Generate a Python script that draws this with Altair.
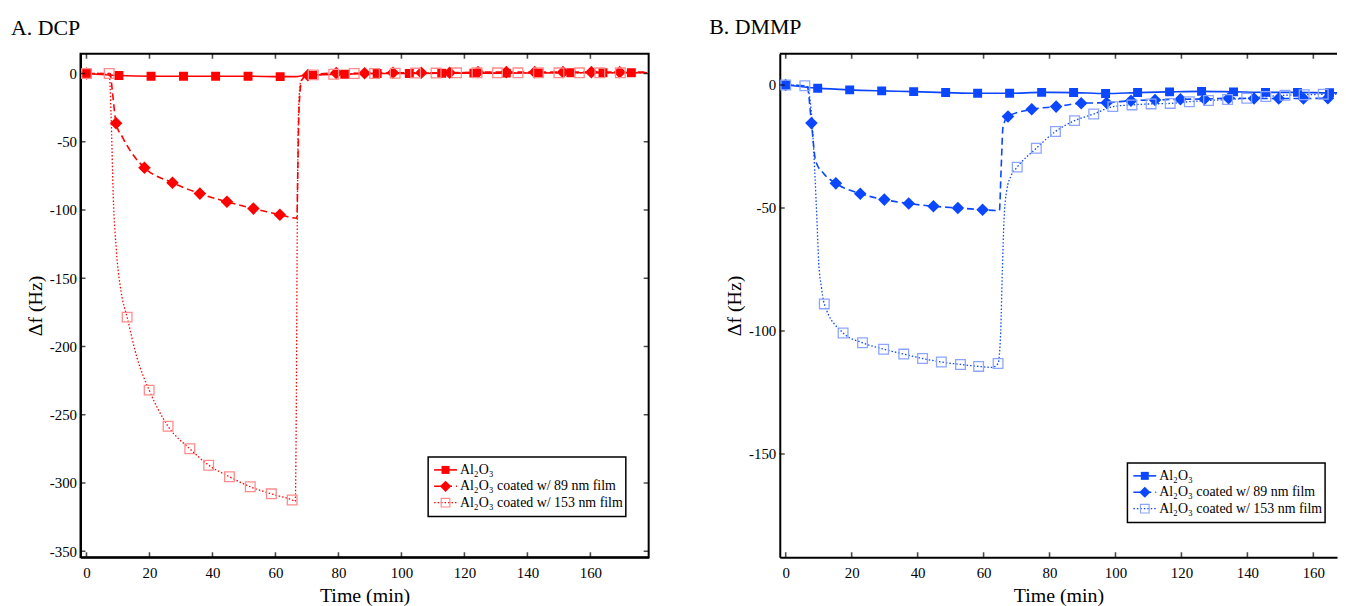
import altair as alt
import pandas as pd

FONT = "Liberation Serif"
RED, RED_LIGHT = "#FF0000", "#FF8C8C"
BLUE, BLUE_LIGHT = "#0B47FF", "#8CA6FF"

x_ticks = [0, 20, 40, 60, 80, 100, 120, 140, 160]
dcp_y_ticks = [0, -50, -100, -150, -200, -250, -300, -350]
dmmp_y_ticks = [0, -50, -100, -150]
series_names = ["Al₂O₃", "Al₂O₃ coated w/ 89 nm film", "Al₂O₃ coated w/ 153 nm film"]

# ---------------- A. DCP ----------------
dcp_bare_line_t = [0, 10.3, 20.5, 30.8, 41, 51.3, 61.5, 66.5, 69, 71.8, 82, 92.3, 102.5, 112.8, 123, 133.3, 143.5, 153.8, 164, 173, 178]
dcp_bare_line_v = [0, -1.5, -2, -2, -2, -2, -2.3, -2.3, -1.5, -1.2, -0.5, 0, 0, 0.2, 0.3, 0.3, 0.4, 0.5, 0.5, 0.5, 0.5]
dcp_bare_mark_t = [0, 10.3, 20.5, 30.8, 41, 51.3, 61.5, 71.8, 82, 92.3, 102.5, 112.8, 123, 133.3, 143.5, 153.8, 164, 173]
dcp_bare_mark_v = [0, -1.5, -2, -2, -2, -2, -2.3, -1.2, -0.5, 0, 0, 0.2, 0.3, 0.3, 0.4, 0.5, 0.5, 0.5]

dcp_89_line_t = [0, 7.5, 8.3, 9.4, 11.5, 14, 18.4, 27.3, 36, 44.6, 53, 61.4, 64, 66.8, 67.1, 67.5, 68.3, 70.3, 79.3, 88.3, 97.3, 106.3, 115.3, 124.3, 133.3, 142.3, 151.3, 160.3, 169.3, 178]
dcp_89_line_v = [0, 0, -15, -36.5, -47, -57, -69, -80, -88, -94, -99, -103.5, -105, -106, -70, -25, -5, -1.2, 0.3, 0.2, 0.5, 0.5, 0.5, 1, 1, 1, 1, 1, 1, 1]
dcp_89_mark_t = [0, 9.4, 18.4, 27.3, 36, 44.6, 53, 61.4, 70.3, 79.3, 88.3, 97.3, 106.3, 115.3, 124.3, 133.3, 142.3, 151.3, 160.3, 169.3]
dcp_89_mark_v = [0, -36.5, -69, -80, -88, -94, -99, -103.5, -1.2, 0.3, 0.2, 0.5, 0.5, 0.5, 1, 1, 1, 1, 1, 1]

dcp_153_line_t = [0, 7.2, 7.8, 8.5, 9.5, 11, 12.9, 16, 19.9, 25.9, 32.8, 38.8, 45.4, 52, 58.7, 65.3, 66.3, 66.6, 66.9, 67.3, 68, 69.5, 72, 78.5, 85, 91.5, 98, 104.5, 111, 117.5, 124, 130.5, 137, 143.5, 150, 156.5, 163, 169.5, 178]
dcp_153_line_v = [0, 0, -30, -90, -130, -160, -178.5, -208, -232, -258.5, -275, -287, -295.5, -302.8, -308, -312.5, -313.5, -250, -120, -30, -6, -2, -1, -0.5, 0, 0, 0.2, 0.3, 0.3, 0.5, 0.5, 0.5, 0.5, 0.5, 0.5, 0.5, 0.5, 0.5, 0.5]
dcp_153_mark_t = [0, 7.2, 12.9, 19.9, 25.9, 32.8, 38.8, 45.4, 52, 58.7, 65.3, 72, 78.5, 85, 91.5, 98, 104.5, 111, 117.5, 124, 130.5, 137, 143.5, 150, 156.5, 163, 169.5]
dcp_153_mark_v = [0, 0, -178.5, -232, -258.5, -275, -287, -295.5, -302.8, -308, -312.5, -1, -0.5, 0, 0, 0.2, 0.3, 0.3, 0.5, 0.5, 0.5, 0.5, 0.5, 0.5, 0.5, 0.5, 0.5]

# ---------------- B. DMMP ----------------
dmmp_bare_line_t = [0, 9.7, 19.4, 29.1, 38.8, 48.5, 58.2, 67.9, 77.6, 87.3, 97, 106.7, 116.4, 126.1, 135.8, 145.5, 155.2, 164.9, 170]
dmmp_bare_line_v = [0, -1.3, -2, -2.4, -2.7, -3.1, -3.4, -3.4, -3, -3.1, -3.5, -3.1, -2.8, -2.6, -2.8, -3, -3, -3.2, -3.2]
dmmp_bare_mark_t = [0, 9.7, 19.4, 29.1, 38.8, 48.5, 58.2, 67.9, 77.6, 87.3, 97, 106.7, 116.4, 126.1, 135.8, 145.5, 155.2, 164.9]
dmmp_bare_mark_v = [0, -1.3, -2, -2.4, -2.7, -3.1, -3.4, -3.4, -3, -3.1, -3.5, -3.1, -2.8, -2.6, -2.8, -3, -3, -3.2]

dmmp_89_line_t = [0, 6.5, 7.8, 9.1, 11.5, 15.2, 22.6, 29.9, 37.3, 44.8, 52.2, 59.7, 64, 64.8, 65.3, 65.9, 67.4, 74.6, 82, 89.6, 97.3, 104.7, 112, 119.7, 127, 134.3, 142, 149.5, 157, 164.4, 170]
dmmp_89_line_v = [0, -0.5, -15.5, -31, -36, -40, -44.2, -46.6, -48.2, -49.3, -50, -50.7, -51, -51, -35, -17, -12.8, -9.9, -8.8, -7.4, -7.2, -6.4, -6.1, -5.8, -5.7, -5.4, -5.5, -5.5, -5.5, -5.4, -5.4]
dmmp_89_mark_t = [0, 7.8, 15.2, 22.6, 29.9, 37.3, 44.8, 52.2, 59.7, 67.4, 74.6, 82, 89.6, 97.3, 104.7, 112, 119.7, 127, 134.3, 142, 149.5, 157, 164.4]
dmmp_89_mark_v = [0, -15.5, -40, -44.2, -46.6, -48.2, -49.3, -50, -50.7, -12.8, -9.9, -8.8, -7.4, -7.2, -6.4, -6.1, -5.8, -5.7, -5.4, -5.5, -5.5, -5.5, -5.4]

dmmp_153_line_t = [0, 5.8, 7, 8, 8.8, 9.5, 10, 10.8, 11.7, 17.4, 23.3, 29.7, 35.8, 41.5, 47.2, 53, 58.5, 62.5, 64.4, 65.2, 65.7, 66.2, 67, 68.3, 70.2, 76, 81.8, 87.6, 93.4, 99.2, 105, 110.8, 116.6, 122.4, 128.2, 134, 139.8, 145.6, 151.4, 157.2, 163, 170]
dmmp_153_line_v = [0, -0.3, -3, -15, -35, -56, -72, -82, -89, -100.8, -104.8, -107.4, -109.4, -111.2, -112.6, -113.6, -114.4, -114.8, -113.2, -100, -75, -55, -43, -37, -33.4, -25.7, -18.9, -14.5, -11.8, -8.8, -8.1, -7.7, -7.5, -6.8, -6.3, -5.9, -5.4, -4.7, -4.2, -4, -3.8, -3.7]
dmmp_153_mark_t = [0, 5.8, 11.7, 17.4, 23.3, 29.7, 35.8, 41.5, 47.2, 53, 58.5, 64.4, 70.2, 76, 81.8, 87.6, 93.4, 99.2, 105, 110.8, 116.6, 122.4, 128.2, 134, 139.8, 145.6, 151.4, 157.2, 163]
dmmp_153_mark_v = [0, -0.3, -89, -100.8, -104.8, -107.4, -109.4, -111.2, -112.6, -113.6, -114.4, -113.2, -33.4, -25.7, -18.9, -14.5, -11.8, -8.8, -8.1, -7.7, -7.5, -6.8, -6.3, -5.9, -5.4, -4.7, -4.2, -4, -3.8]

# ---------------- styling / layout ----------------
H = 507
W_L = 572
W_R = 561
DCP_X = [-1.9, 178.5]
DCP_Y = [-354.5, 14.5]
DMMP_X = [-1.8, -1.8 + W_R / 3.32]
DMMP_Y = [-192, 12.7]

STYLES = [
    dict(shape="square", filled=True, size=81, dash=None, width=1.6),
    dict(shape="diamond", filled=True, size=160, dash=[7, 4], width=1.6),
    dict(shape="square", filled=False, size=95, dash=[1.5, 2], width=1.3),
]

ONE = pd.DataFrame({"k": [0]})


def x_axis():
    return alt.Axis(values=x_ticks, labelExpr="'' + datum.value", ticks=False, grid=False,
                    labelFont=FONT, labelFontSize=15, labelColor="black", labelPadding=8,
                    labelFlush=False, domainColor="black", domainWidth=2,
                    title="Time (min)", titleFont=FONT, titleFontSize=20,
                    titleFontWeight="normal", titleColor="black", titlePadding=5)


def y_axis(vals):
    return alt.Axis(values=vals, labelExpr="'' + datum.value", ticks=False, grid=False,
                    labelFont=FONT, labelFontSize=15, labelColor="black", labelPadding=4,
                    labelFlush=False, domainColor="black", domainWidth=2,
                    title="Δf (Hz)", titleFont=FONT, titleFontSize=20,
                    titleFontWeight="normal", titleColor="black", titlePadding=4)


class Panel:
    def __init__(self, xdom, ydom, yvals, width):
        self.xdom, self.ydom, self.yvals, self.width = xdom, ydom, yvals, width

    def X(self):
        return alt.X("t:Q", scale=alt.Scale(domain=self.xdom, nice=False, zero=False), axis=x_axis())

    def Y(self):
        return alt.Y("v:Q", scale=alt.Scale(domain=self.ydom, nice=False, zero=False), axis=y_axis(self.yvals))


def series_layers(p, lines, marks, color, light):
    layers = []
    for (lt, lv), st in zip(lines, STYLES):
        kw = dict(color=color, strokeWidth=st["width"], interpolate="monotone", clip=True)
        if st["dash"]:
            kw["strokeDash"] = st["dash"]
        layers.append(alt.Chart(pd.DataFrame({"t": lt, "v": lv})).mark_line(**kw).encode(x=p.X(), y=p.Y()))
    for (mt, mv), st in zip(marks, STYLES):
        if st["filled"]:
            mk = alt.Chart(pd.DataFrame({"t": mt, "v": mv})).mark_point(
                shape=st["shape"], filled=True, size=st["size"], color=color, opacity=1, clip=True)
        else:
            mk = alt.Chart(pd.DataFrame({"t": mt, "v": mv})).mark_point(
                shape=st["shape"], filled=False, size=st["size"], color=light,
                strokeWidth=1.3, opacity=1, clip=True)
        layers.append(mk.encode(x=p.X(), y=p.Y()))
    return layers


def tick_layers(p, right_side):
    xt = pd.DataFrame({"t": x_ticks})
    yt = pd.DataFrame({"v": p.yvals})
    tk = dict(color="black", size=10, thickness=1.6, clip=True)
    out = [
        alt.Chart(xt).mark_tick(orient="vertical", **tk).encode(x=p.X(), y=alt.value(H)),
        alt.Chart(xt).mark_tick(orient="vertical", **tk).encode(x=p.X(), y=alt.value(0)),
        alt.Chart(yt).mark_tick(orient="horizontal", **tk).encode(y=p.Y(), x=alt.value(0)),
    ]
    if right_side:
        out.append(alt.Chart(yt).mark_tick(orient="horizontal", **tk).encode(y=p.Y(), x=alt.value(p.width)))
    return out


def legend_layers(bx, by, color, light):
    bw, bh = 199, 60
    out = [alt.Chart(ONE).mark_rect(fill="white", stroke="black", strokeWidth=1.5).encode(
        x=alt.value(bx), x2=alt.value(bx + bw), y=alt.value(by), y2=alt.value(by + bh))]
    for i, (name, st) in enumerate(zip(series_names, STYLES)):
        ry = by + 13 + 16.5 * i
        kw = dict(color=color, strokeWidth=st["width"])
        if st["dash"]:
            kw["strokeDash"] = st["dash"]
        out.append(alt.Chart(ONE).mark_rule(**kw).encode(
            x=alt.value(bx + 6), x2=alt.value(bx + 29), y=alt.value(ry)))
        if st["filled"]:
            pk = dict(shape=st["shape"], filled=True, size=st["size"] * 0.8, color=color, opacity=1)
        else:
            pk = dict(shape=st["shape"], filled=False, size=st["size"] * 0.8, color=light,
                      strokeWidth=1.2, opacity=1)
        out.append(alt.Chart(ONE).mark_point(**pk).encode(x=alt.value(bx + 17.5), y=alt.value(ry)))
        out.append(alt.Chart(ONE).mark_text(text=name, align="left", baseline="middle", font=FONT,
                                            fontSize=14, color="black").encode(
            x=alt.value(bx + 32), y=alt.value(ry)))
    return out


def title(text, dx):
    return alt.TitleParams(text=text, anchor="start", frame="group", dx=dx, font=FONT,
                           fontSize=22, fontWeight="normal", color="black", offset=14)


dcp_lines = [(dcp_bare_line_t, dcp_bare_line_v), (dcp_89_line_t, dcp_89_line_v), (dcp_153_line_t, dcp_153_line_v)]
dcp_marks = [(dcp_bare_mark_t, dcp_bare_mark_v), (dcp_89_mark_t, dcp_89_mark_v), (dcp_153_mark_t, dcp_153_mark_v)]
dmmp_lines = [(dmmp_bare_line_t, dmmp_bare_line_v), (dmmp_89_line_t, dmmp_89_line_v), (dmmp_153_line_t, dmmp_153_line_v)]
dmmp_marks = [(dmmp_bare_mark_t, dmmp_bare_mark_v), (dmmp_89_mark_t, dmmp_89_mark_v), (dmmp_153_mark_t, dmmp_153_mark_v)]

pl = Panel(DCP_X, DCP_Y, dcp_y_ticks, W_L)
left_layers = series_layers(pl, dcp_lines, dcp_marks, RED, RED_LIGHT)
left_layers += tick_layers(pl, True)
left_layers += legend_layers(350, 406, RED, RED_LIGHT)

left = alt.layer(*left_layers).properties(
    width=W_L, height=H, title=title("A. DCP", -70),
    view=alt.ViewBackground(stroke="black", strokeWidth=2),
)

pr = Panel(DMMP_X, DMMP_Y, dmmp_y_ticks, W_R)
right_layers = series_layers(pr, dmmp_lines, dmmp_marks, BLUE, BLUE_LIGHT)
right_layers += tick_layers(pr, False)
right_layers.append(alt.Chart(ONE).mark_rule(color="black", strokeWidth=2).encode(
    x=alt.value(0), x2=alt.value(W_R), y=alt.value(0)))
right_layers += legend_layers(350, 412, BLUE, BLUE_LIGHT)

right = alt.layer(*right_layers).properties(
    width=W_R, height=H, title=title("B. DMMP", -71),
    view=alt.ViewBackground(strokeWidth=0),
)

chart = alt.hconcat(left, right, spacing=60).properties(
    padding={"left": 2, "top": 6, "right": 0, "bottom": 0},
    background="white",
).configure_view(strokeWidth=0)

chart.save("out.html", embed_options={"renderer": "svg", "actions": False})
